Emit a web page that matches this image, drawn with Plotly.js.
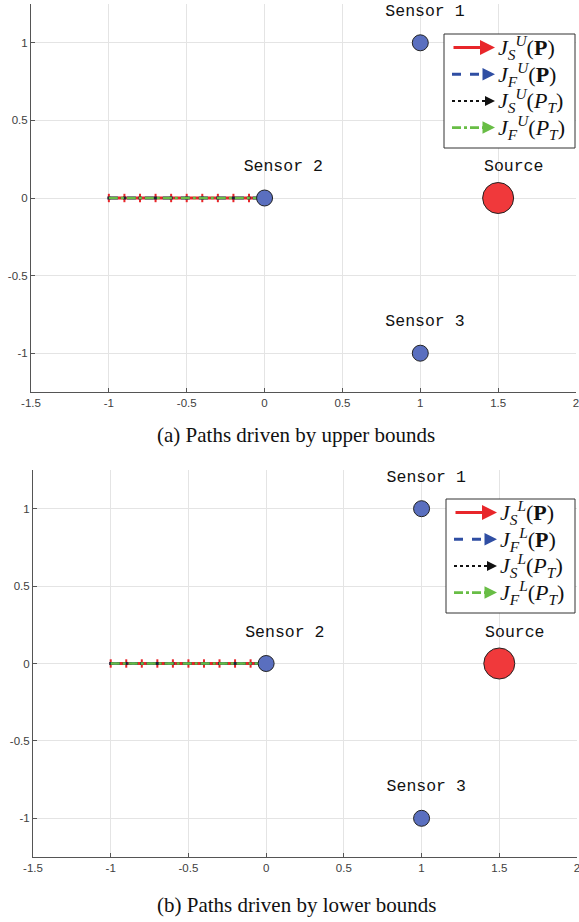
<!DOCTYPE html>
<html><head><meta charset="utf-8">
<script src="https://cdn.plot.ly/plotly-3.0.1.min.js"></script>
<style>html,body{margin:0;padding:0;background:#fff}#plot{width:579px;height:922px}</style>
</head><body><div id="plot"></div>
<script>
// ---- data ----
const pathX = [-1, -0.9, -0.8, -0.7, -0.6, -0.5, -0.4, -0.3, -0.2, -0.1, 0];
const pathY = [0, 0, 0, 0, 0, 0, 0, 0, 0, 0, 0];
const sensorX = [1, 0, 1];
const sensorY = [1, 0, -1];
const sourceX = [1.5];
const sourceY = [0];
const labelText = ["Sensor 1", "Sensor 2", "Sensor 3", "Source"];
const labelX = [1.03, 0.12, 1.03, 1.6];
const labelY = [1.2, 0.2, -0.8, 0.2];
const xTickVals = [-1.5, -1, -0.5, 0, 0.5, 1, 1.5, 2];
const xTickText = ["-1.5", "-1", "-0.5", "0", "0.5", "1", "1.5", "2"];
const yTickVals = [-1, -0.5, 0, 0.5, 1];
const yTickText = ["-1", "-0.5", "0", "0.5", "1"];
const captions = ["(a) Paths driven by upper bounds", "(b) Paths driven by lower bounds"];
const boundSup = ["U", "L"];
const legendNames = [["S", "<b>P</b>"], ["F", "<b>P</b>"], ["S", "<i>P</i><sub><i>T</i></sub>"], ["F", "<i>P</i><sub><i>T</i></sub>"]];

// ---- styles ----
const W = 579, H = 922;
const pathStyles = [
  {color: '#e8262a', dash: 'solid', width: 3.2},
  {color: '#2f4ea3', dash: 'dash', width: 3},
  {color: '#111111', dash: 'dot', width: 2},
  {color: '#68bd45', dash: 'dashdot', width: 2.6}
];
const panels = [
  {xa: 'x', ya: 'y', xd: [31, 576], yd: [4, 392], legTop: 34, legLeft: 444, cap: 435},
  {xa: 'x2', ya: 'y2', xd: [33, 577], yd: [470, 857], legTop: 499, legLeft: 446, cap: 905}
];
const px = v => v / W, py = v => 1 - v / H;

const traces = [], shapes = [], annotations = [];
const layout = {
  width: W, height: H, margin: {l: 0, r: 0, t: 0, b: 0},
  paper_bgcolor: '#fff', plot_bgcolor: '#fff', showlegend: false,
  font: {family: 'Liberation Sans, Arial, sans-serif', color: '#404040', size: 11.5}
};

panels.forEach((p, i) => {
  const sfx = i === 0 ? '' : '2';
  // paths
  pathStyles.forEach((s, k) => {
    const t = {
      x: pathX, y: pathY, xaxis: p.xa, yaxis: p.ya, type: 'scatter',
      mode: 'lines', line: {color: s.color, dash: s.dash, width: s.width},
      name: legendNames[k].join(' '), hoverinfo: 'skip'
    };
    if (k === 0) { t.mode = 'lines+markers'; t.marker = {symbol: 'line-ns', size: 6, line: {width: 2, color: s.color}, color: s.color}; }
    if (k === 2) { t.mode = 'lines+markers'; t.marker = {symbol: 'square', size: 3, color: '#1a1f3a'}; }
    traces.push(t);
  });
  // sensors
  traces.push({x: sensorX, y: sensorY, xaxis: p.xa, yaxis: p.ya, type: 'scatter', mode: 'markers',
    marker: {size: 16, color: '#5a6fbf', line: {color: '#222', width: 1}}, hoverinfo: 'skip'});
  traces.push({x: sourceX, y: sourceY, xaxis: p.xa, yaxis: p.ya, type: 'scatter', mode: 'markers',
    marker: {size: 31, color: '#f0393b', line: {color: '#222', width: 1}}, hoverinfo: 'skip'});
  // labels
  traces.push({x: labelX, y: labelY, text: labelText, xaxis: p.xa, yaxis: p.ya, type: 'scatter', mode: 'text',
    textposition: 'middle center', textfont: {family: 'Liberation Mono, Courier New, monospace', size: 16.5, color: '#111'},
    hoverinfo: 'skip'});

  const axCommon = {
    showgrid: true, gridcolor: '#e4e4e4', gridwidth: 1, zeroline: false,
    showline: true, linecolor: '#555', linewidth: 1, ticks: 'inside', ticklen: 4, tickcolor: '#555',
    tickfont: {family: 'Liberation Sans, Arial, sans-serif', size: 11.5, color: '#404040'},
    ticklabeloverflow: 'allow', fixedrange: true
  };
  layout['xaxis' + sfx] = Object.assign({}, axCommon, {
    domain: [px(p.xd[0]), px(p.xd[1])], range: [-1.5, 2], anchor: 'y' + sfx,
    tickmode: 'array', tickvals: xTickVals, ticktext: xTickText
  });
  layout['yaxis' + sfx] = Object.assign({}, axCommon, {
    domain: [py(p.yd[1]), py(p.yd[0])], range: [-1.25, 1.25], anchor: 'x' + sfx,
    tickmode: 'array', tickvals: yTickVals, ticktext: yTickText
  });

  // caption
  annotations.push({xref: 'paper', yref: 'paper', x: px(296), y: py(p.cap), text: captions[i], showarrow: false,
    xanchor: 'center', yanchor: 'middle', font: {family: 'Liberation Serif, Times New Roman, serif', size: 21, color: '#111'}});

  // custom legend
  const lx0 = p.legLeft, lx1 = 575, ly0 = p.legTop, ly1 = p.legTop + 114;
  shapes.push({type: 'rect', xref: 'paper', yref: 'paper', x0: px(lx0), x1: px(lx1), y0: py(ly1), y1: py(ly0),
    line: {color: '#333', width: 1}, fillcolor: '#fff', layer: 'above'});
  pathStyles.forEach((s, k) => {
    const ry = ly0 + 13.5 + k * 26.7;
    const head = lx0 + 51;
    if (k === 0) {
      annotations.push({xref: 'paper', yref: 'paper', x: px(head), y: py(ry), ax: -43, ay: 0, showarrow: true,
        arrowhead: 2, arrowsize: 1, arrowwidth: 3, arrowcolor: s.color, text: ''});
    } else {
      shapes.push({type: 'line', xref: 'paper', yref: 'paper', x0: px(lx0 + 8), x1: px(head - 7), y0: py(ry), y1: py(ry),
        line: {color: s.color, width: s.width, dash: s.dash}, layer: 'above'});
      annotations.push({xref: 'paper', yref: 'paper', x: px(head), y: py(ry), ax: -8, ay: 0, showarrow: true,
        arrowhead: 2, arrowsize: 1, arrowwidth: Math.min(s.width, 2.5), arrowcolor: s.color, text: ''});
    }
    annotations.push({xref: 'paper', yref: 'paper', x: px(head + 1), y: py(ry), xanchor: 'left', yanchor: 'middle',
      showarrow: false,
      text: '<i>J</i><sub><i>' + legendNames[k][0] + '</i></sub><sup><i>' + boundSup[i] + '</i></sup>(' + legendNames[k][1] + ')',
      font: {family: 'Liberation Serif, Times New Roman, serif', size: 22, color: '#111'}});
  });
});
layout.shapes = shapes;
layout.annotations = annotations;
Plotly.newPlot('plot', traces, layout, {staticPlot: true, displayModeBar: false});
</script></body></html>
